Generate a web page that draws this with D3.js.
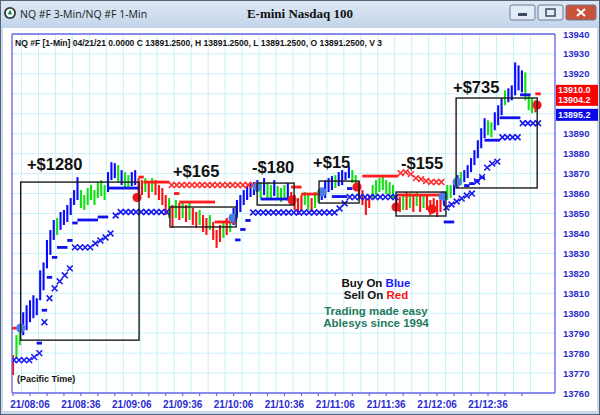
<!DOCTYPE html>
<html><head><meta charset="utf-8">
<script src="https://cdn.jsdelivr.net/npm/d3@7"></script>
<style>body{margin:0;background:#fff}svg{display:block}</style>
</head><body>
<svg id="c" width="600" height="415"></svg>
<script>
// ---------- DATA ----------
const windowTitle = "NQ #F 3-Min/NQ #F 1-Min";
const chartTitle = "E-mini Nasdaq 100";
const headerText = "NQ #F [1-Min] 04/21/21  0.0000 C 13891.2500, H 13891.2500, L 13891.2500, O 13891.2500, V 3";
// price bars, one every 2 minutes starting 07:56 (minutes since midnight)
const barStart = 476, barStep = 2;
const barHigh = [13779,13789,13794,13800.5,13804,13806.5,13809,13807.5,13821.5,13825.5,
 13836.75,13841.75,13846.75,13847.75,13850.75,13851.75,13854.25,13857.75,13861.75,13868.25,
 13861.75,13859.25,13862.75,13864.25,13861.75,13865.75,13866.75,13864.25,13870.75,13875.75,
 13875.25,13874.25,13871.75,13870.75,13869.25,13870.75,13871.75,13867.75,13866.75,13867.75,
 13865.75,13867.75,13866.75,13864.25,13862.75,13859.25,13857.75,13854.25,13856.75,13855.25,
 13855.75,13854.25,13855.25,13852.75,13850.75,13851.75,13849.25,13847.75,13849.25,13845.75,
 13841.75,13844.25,13845.75,13847.75,13849.25,13852.75,13856.75,13859.25,13861.75,13863.75,
 13865.25,13865.75,13866.75,13865.75,13867.75,13865.75,13864.25,13866.75,13863.75,13862.75,
 13864.25,13865.25,13860.75,13859.25,13857.75,13859.25,13860.75,13859.25,13857.75,13860.75,
 13861.75,13862.75,13866.75,13867.75,13868.75,13869.25,13870.75,13871.75,13870.75,13873.75,
 13871.75,13869.25,13865.75,13861.75,13857.75,13859.25,13864.25,13866.75,13867.75,13868.75,
 13866.75,13865.75,13864.25,13859.25,13858.25,13859.25,13860.75,13860.25,13859.25,13860.75,
 13858.75,13859.75,13859.25,13856.75,13857.75,13856.75,13859.25,13860.75,13864.25,13864.25,
 13866.75,13869.25,13870.75,13871.75,13874.25,13877.75,13881.75,13886.75,13892.75,13897.75,
 13896.75,13895.75,13900.75,13904.25,13907.75,13911.75,13912.75,13914.25,13925.75,13924.25,
 13921.75,13920.75,13909.25,13907.75,13906.75];
const barLow = [13769,13777.5,13784,13789,13791.5,13795.5,13797.5,13799,13806.5,13811.5,
 13822.5,13829.25,13836.75,13839.25,13841.75,13844.25,13845.75,13849.25,13854.25,13856.75,
 13852.75,13851.75,13854.25,13856.75,13854.25,13857.75,13858.75,13856.75,13860.75,13866.75,
 13867.75,13865.75,13864.25,13862.75,13862.75,13863.75,13864.25,13856.75,13859.25,13860.75,
 13857.75,13860.75,13859.25,13856.75,13854.25,13849.25,13847.75,13842.75,13847.75,13846.75,
 13847.75,13845.75,13846.75,13844.25,13842.75,13844.25,13840.75,13839.25,13841.75,13836.75,
 13832.75,13835.75,13837.75,13839.25,13840.75,13844.25,13847.75,13850.75,13854.25,13856.75,
 13858.25,13859.25,13860.75,13857.75,13859.25,13856.75,13856.75,13858.75,13856.75,13855.75,
 13856.75,13856.75,13854.25,13851.75,13849.25,13851.75,13854.25,13851.75,13850.75,13852.75,
 13855.75,13856.75,13857.75,13860.75,13861.75,13862.75,13863.75,13864.25,13866.75,13867.75,
 13865.25,13862.75,13859.25,13854.25,13849.25,13852.75,13857.75,13859.25,13860.75,13861.75,
 13859.75,13858.75,13857.75,13851.75,13850.75,13851.75,13851.75,13852.75,13850.75,13853.75,
 13850.75,13852.75,13851.75,13849.25,13850.75,13848.25,13850.75,13854.25,13856.75,13857.75,
 13859.25,13862.75,13864.25,13865.75,13867.75,13870.75,13874.25,13877.75,13882.75,13887.75,
 13889.25,13888.25,13891.75,13894.25,13899.25,13904.25,13905.75,13906.75,13909.25,13911.75,
 13910.75,13906.75,13901.75,13900.25,13900.75];
const barColor = ("RGGBBBBBBB"+"BBBGBBBBBB"+"GGGGGGGGBB"+"BGBGGBBRRG"+"RGRRRRGRGR"+
 "GRGRRGRRGR"+"RRGRGBBBBB"+"BBBGBGGBGG"+"GBRRRRGGRG"+"GBBBBGBBBB"+"GGRRRRGGGG"+
 "GGGRRGRGRG"+"RGRRRRRBGG"+"BBGBBBBBBB"+"GGBBBGBBBB"+"BGGGR").split("");

// trailing stops on the 3-minute chart: [3-min bar index, price]; bar k starts at 07:55 + 3k
const stopStart = 475, stopStep = 3;
const blueX = [[0,13776.5],[1,13776.5],[2,13776.5],[3,13776.5],[4,13778],[5,13780],[6,13795.5],[7,13807.5],
 [8,13812.5],[9,13816],[10,13819],[11,13822.5],[12,13833],[13,13833],[14,13833],[15,13833],[16,13835],
 [17,13836.5],[18,13838],[19,13840],[20,13849],[21,13850.75],[22,13850.75],[23,13850.75],[24,13850.75],
 [25,13850.75],[26,13850.75],[27,13850.75],[28,13850.75],[29,13850.75],[30,13850.75],
 [47,13850.5],[48,13850.5],[49,13850.5],[50,13850.5],[51,13850.5],[52,13850.5],[53,13850.5],[54,13850.5],
 [55,13850.5],[56,13850.5],[57,13850.5],[58,13850.5],[59,13850.5],[60,13850.5],[61,13850.5],[62,13850.5],
 [63,13850.5],[64,13852.5],[65,13855],[66,13858.25],[67,13858.25],[68,13858.25],[69,13858.25],[70,13858.25],
 [71,13858.25],[72,13858.25],[73,13858.25],[74,13858.25],[75,13858.25],
 [85,13853],[86,13854.5],[87,13856],[88,13857.5],[89,13859],[90,13860],[91,13866],[92,13868.25],
 [93,13873],[94,13875],[95,13876],[96,13888.25],[97,13888.25],[98,13888.25],[99,13888.25],
 [100,13895.25],[101,13895.25],[102,13895.25],[103,13895.25]];
const blueDash = [[5,13785],[6,13801.5],[7,13818],[8,13828],[9,13833],[10,13833],[11,13836.5],[12,13845.25],
 [13,13846.75],[14,13846.75],[15,13846.75],[16,13846.75],[17,13848.25],[18,13848.25],[19,13862.75],
 [20,13862.75],[21,13862.75],[22,13862.75],[23,13862.75],[24,13862.75],
 [44,13836.75],[45,13842],[46,13846.5],
 [49,13857.25],[50,13857.25],[51,13857.25],[52,13857.25],[53,13857.25],[54,13857.25],
 [63,13858.5],[64,13858.5],[65,13858.5],[66,13862.5],
 [85,13845.75],[86,13845.75],[89,13864],[90,13865],[91,13866.5],[92,13868],
 [93,13886.75],[94,13886.75],[95,13886.75],[96,13898],[97,13898],[98,13898],[99,13898],
 [100,13909.5],[101,13909.5]];
const redX = [[31,13864.25],[32,13864.25],[33,13864.25],[34,13864.25],[35,13864.25],[36,13864.25],
 [37,13864.25],[38,13864.25],[39,13864.25],[40,13864.25],[41,13864.25],[42,13864.25],[43,13864.25],
 [44,13864.25],[45,13864.25],[46,13864.25],[47,13864.25],
 [76,13870.25],[77,13870.75],[78,13869.75],[79,13867.75],[80,13867.25],[81,13866.25],[82,13865.75],
 [83,13865.75],[84,13865.75]];
const redDash = [[0,13792.5],[25,13868.25],[26,13865.75],[27,13865.75],[28,13865.75],[29,13865.75],[30,13865.75],
 [32,13860],[33,13855.75],[34,13855.75],[35,13855.75],[36,13855.75],[37,13855.75],[38,13855.75],[39,13855.75],
 [40,13845.75],[41,13845.75],[42,13845.75],[43,13845.75],
 [55,13863.25],[56,13863.25],[57,13859.75],[58,13859.75],[59,13859.75],[60,13859.75],
 [69,13868.75],[70,13868.75],[71,13868.75],[72,13868.75],[73,13868.75],[74,13868.75],[75,13868.75],
 [76,13859.25],[77,13859.25],[78,13859.25],[79,13859.25],[80,13859.25],[81,13859.25],[82,13859.25],
 [83,13859.25],[84,13859.25],[103,13910]];

// entry / exit signals: time (minutes since midnight), price, side
const signalTime  = [480.5, 549.1, 605.7, 619.9, 640.5, 658.2, 678.8, 701.8, 723, 729.5, 737.8, 784.9];
const signalPrice = [13792.6,13858,13847.7,13863.3,13856.8,13860.8,13863.3,13853.2,13852.2,13858.7,13865.8,13904.4];
const signalSide  = ["B","S","B","B","S","B","S","S","S","B","B","S"];

// trades
const tradeStart  = [480.5, 568.5, 619.9, 656.4, 701.8, 737.2];
const tradeEnd    = [550.3, 607.5, 641.7, 680, 731.2, 785];
const tradeTop    = [13865.75, 13853.25, 13865.25, 13866.25, 13860.75, 13907.9];
const tradeBottom = [13786.5, 13843.25, 13854.25, 13855.25, 13848.75, 13862.8];
const tradeLabel  = ["+$1280","+$165","-$180","+$15","-$155","+$735"];
const labelTime   = [484.2, 570.3, 616.9, 652.9, 704.7, 735.4];
const labelPrice  = [13871.8, 13868.3, 13870.3, 13872.8, 13872.3, 13910.6];

// axes
const yTicks = [13760,13770,13780,13790,13800,13810,13820,13830,13840,13850,13860,13870,13880,13890,13900,13910,13920,13930,13940];
const xLabels = ["21/08:06","21/08:36","21/09:06","21/09:36","21/10:06","21/10:36","21/11:06","21/11:36","21/12:06","21/12:36"];
const redMarks = ["13910.0","13904.2"];
const blueMarks = ["13895.2"];

// ---------- DRAW ----------
const svg = d3.select("#c");
const P = {l:12, r:555, t:34, b:393};
const x = d3.scaleLinear().domain([486,756]).range([30,488]);
const y = d3.scaleLinear().domain([13760,13940]).range([393,34]);
const toMin = s => { const m = s.slice(3).split(":"); return +m[0]*60 + +m[1]; };
const SANS = "'Liberation Sans', Arial, sans-serif";

const defs = svg.append("defs");
const g1 = defs.append("linearGradient").attr("id","tb").attr("x1",0).attr("y1",0).attr("x2",0).attr("y2",1);
g1.append("stop").attr("offset","0").attr("stop-color","#dfe9f5");
g1.append("stop").attr("offset","1").attr("stop-color","#c3d4ea");
defs.append("clipPath").attr("id","clip").append("rect")
  .attr("x",P.l).attr("y",P.t).attr("width",P.r-P.l).attr("height",P.b-P.t);

// window chrome
svg.append("rect").attr("width",600).attr("height",415).attr("fill","#c9d8eb");
svg.append("rect").attr("width",600).attr("height",28).attr("fill","url(#tb)");
svg.append("rect").attr("x",3).attr("y",28).attr("width",594).attr("height",383).attr("fill","#fff");
svg.append("rect").attr("x",0.5).attr("y",0.5).attr("width",599).attr("height",414)
  .attr("fill","none").attr("stroke","#52647c");
// icon
svg.append("circle").attr("cx",10).attr("cy",13).attr("r",6).attr("fill","#2f3b3a");
svg.append("circle").attr("cx",10).attr("cy",13).attr("r",4.2).attr("fill","#fff");
svg.append("path").attr("d","M10,9.5 L12.3,14.5 L7.7,14.5 Z").attr("fill","#1f8a4a");
svg.append("text").attr("x",20).attr("y",17.5).text(windowTitle)
  .attr("font-family","'Open Sans', 'Noto Sans', sans-serif").attr("font-size",10.5).attr("fill","#1a1a1a");
svg.append("text").attr("x",300).attr("y",18).attr("text-anchor","middle").text(chartTitle)
  .attr("font-family","'Liberation Serif', 'DejaVu Serif', serif").attr("font-weight","bold").attr("font-size",13).attr("fill","#111");
// window buttons
const btn = (bx,bw,fill) => svg.append("rect").attr("x",bx).attr("y",5).attr("width",bw).attr("height",15)
  .attr("rx",2).attr("fill",fill).attr("stroke","#6b7d95");
btn(510,25,"#e3ebf6"); btn(538,25,"#e3ebf6"); btn(566,30,"#c8523a");
svg.append("rect").attr("x",518).attr("y",13).attr("width",9).attr("height",3).attr("fill","#3b4a60");
svg.append("rect").attr("x",546).attr("y",9).attr("width",9).attr("height",7).attr("fill","none").attr("stroke","#3b4a60").attr("stroke-width",1.5);
svg.append("path").attr("d","M577,9 L585,16 M585,9 L577,16").attr("stroke","#fff").attr("stroke-width",2.2);

// grid
const grid = svg.append("g").attr("stroke","#c9f1f6").attr("stroke-width",1);
d3.range(481, 790, 10).forEach(t => { const gx = x(t); if (gx>P.l && gx<P.r)
  grid.append("line").attr("x1",gx).attr("x2",gx).attr("y1",P.t).attr("y2",P.b); });
yTicks.forEach(v => grid.append("line").attr("x1",P.l).attr("x2",P.r).attr("y1",y(v)).attr("y2",y(v)));

// header text
svg.append("text").attr("x",15).attr("y",46).text(headerText)
  .attr("font-family",SANS).attr("font-weight","bold")
  .attr("font-size",8.5).attr("fill","#111").attr("textLength",367).attr("lengthAdjust","spacingAndGlyphs");

const plot = svg.append("g").attr("clip-path","url(#clip)");
const colMap = {B:"#0a0aff", G:"#11e011", R:"#ff1010"};

// bars
plot.append("g").selectAll("line").data(barHigh).join("line")
  .attr("x1",(d,i)=>x(barStart+i*barStep)).attr("x2",(d,i)=>x(barStart+i*barStep))
  .attr("y1",d=>y(d)).attr("y2",(d,i)=>y(barLow[i]))
  .attr("stroke",(d,i)=>colMap[barColor[i]]).attr("stroke-width",2.1);

// stops
const sx = k => x(stopStart + k*stopStep + 1.5);
function dashes(data,color){
  plot.append("g").selectAll("line").data(data).join("line")
    .attr("x1",d=>sx(d[0])-2.7).attr("x2",d=>sx(d[0])+2.7)
    .attr("y1",d=>y(d[1])).attr("y2",d=>y(d[1]))
    .attr("stroke",color).attr("stroke-width",2.8);
}
function crosses(data,color){
  plot.append("g").selectAll("path").data(data).join("path")
    .attr("d",d=>{const cx=sx(d[0]), cy=y(d[1]), r=2.9;
      return `M${cx-r},${cy-r}L${cx+r},${cy+r}M${cx-r},${cy+r}L${cx+r},${cy-r}`;})
    .attr("stroke",color).attr("stroke-width",1.6).attr("fill","none");
}
dashes(blueDash,"#1010ee"); crosses(blueX,"#1a1aee");
dashes(redDash,"#ff1a1a"); crosses(redX,"#ff2a2a");

// signals
plot.append("g").selectAll("circle").data(signalTime).join("circle")
  .attr("cx",d=>x(d)).attr("cy",(d,i)=>y(signalPrice[i])).attr("r",4.6)
  .attr("fill",(d,i)=>signalSide[i]==="B"?"#4c7ce8":"#f01818");

// trade boxes
plot.append("g").selectAll("rect").data(tradeStart).join("rect")
  .attr("x",d=>x(d)).attr("y",(d,i)=>y(tradeTop[i]))
  .attr("width",(d,i)=>x(tradeEnd[i])-x(d)).attr("height",(d,i)=>y(tradeBottom[i])-y(tradeTop[i]))
  .attr("fill","none").attr("stroke","#1a1a1a").attr("stroke-width",1.4);
svg.append("g").selectAll("text").data(tradeLabel).join("text")
  .attr("x",(d,i)=>x(labelTime[i])).attr("y",(d,i)=>y(labelPrice[i])).text(d=>d)
  .attr("font-family",SANS).attr("font-weight","bold")
  .attr("font-size",16.5).attr("fill","#111");

// frame
const fr = svg.append("g").attr("stroke","#6a6ae6").attr("stroke-width",1.4).attr("fill","none");
fr.append("line").attr("x1",P.l).attr("x2",P.l).attr("y1",P.t).attr("y2",P.b);
fr.append("line").attr("x1",P.r).attr("x2",P.r).attr("y1",P.t).attr("y2",P.b);
fr.append("line").attr("x1",P.l).attr("x2",P.r).attr("y1",P.t).attr("y2",P.t);
fr.append("line").attr("x1",P.l).attr("x2",P.r).attr("y1",P.b).attr("y2",P.b);

// x axis ticks + labels
const axCol = "#2b2bd0";
d3.range(476, 780, 10).forEach(t => svg.append("line").attr("x1",x(t)).attr("x2",x(t))
  .attr("y1",P.b).attr("y2",P.b+3).attr("stroke","#6a6ae6").attr("stroke-width",1.2));
svg.append("g").selectAll("text").data(xLabels).join("text")
  .attr("x",d=>x(toMin(d))).attr("y",408).attr("text-anchor","middle").text(d=>d)
  .attr("font-family",SANS).attr("font-weight","bold")
  .attr("font-size",10).attr("fill",axCol);

// last-value markers (they cover the axis labels behind them)
const MF = 9;
const rb = y(+redMarks[0]) - 9;
const rh = 21;
const bb = rb + rh + 3;
const bh = 12;
const covered = v => { const ty = y(v); return ty+4 > rb && ty-4 < bb+bh; };
svg.append("g").selectAll("text").data(yTicks.filter(v=>!covered(v))).join("text")
  .attr("x",563).attr("y",d=>y(d)+3.5).text(d=>d)
  .attr("font-family",SANS).attr("font-weight","bold")
  .attr("font-size",9.5).attr("fill",axCol);
svg.append("rect").attr("x",556).attr("y",rb).attr("width",42).attr("height",rh).attr("fill","#ff0000");
redMarks.forEach((m,i)=>svg.append("text").attr("x",558).attr("y",rb+8.5+i*10).text(m)
  .attr("font-family",SANS).attr("font-weight","bold").attr("font-size",MF).attr("fill","#f4f4ff"));
svg.append("rect").attr("x",556).attr("y",bb).attr("width",42).attr("height",bh).attr("fill","#0a0ae8");
svg.append("text").attr("x",558).attr("y",bb+9.5).text(blueMarks[0])
  .attr("font-family",SANS).attr("font-weight","bold").attr("font-size",MF).attr("fill","#f4f4ff");

// legend
const lg = svg.append("g").attr("font-family",SANS).attr("font-weight","bold")
  .attr("font-size",11.5).attr("text-anchor","middle");
const t1 = lg.append("text").attr("x",376).attr("y",287);
t1.append("tspan").attr("fill","#111").text("Buy On ");
t1.append("tspan").attr("fill","#1a1aff").text("Blue");
const t2 = lg.append("text").attr("x",376).attr("y",299);
t2.append("tspan").attr("fill","#111").text("Sell On ");
t2.append("tspan").attr("fill","#ff1010").text("Red");
lg.append("text").attr("x",376).attr("y",315).attr("fill","#1e7b5c").text("Trading made easy");
lg.append("text").attr("x",376).attr("y",327).attr("fill","#1e7b5c").text("Ablesys since 1994");

svg.append("text").attr("x",17).attr("y",382).text("(Pacific Time)")
  .attr("font-family",SANS).attr("font-weight","bold")
  .attr("font-size",9).attr("fill","#111");
</script>
</body></html>
